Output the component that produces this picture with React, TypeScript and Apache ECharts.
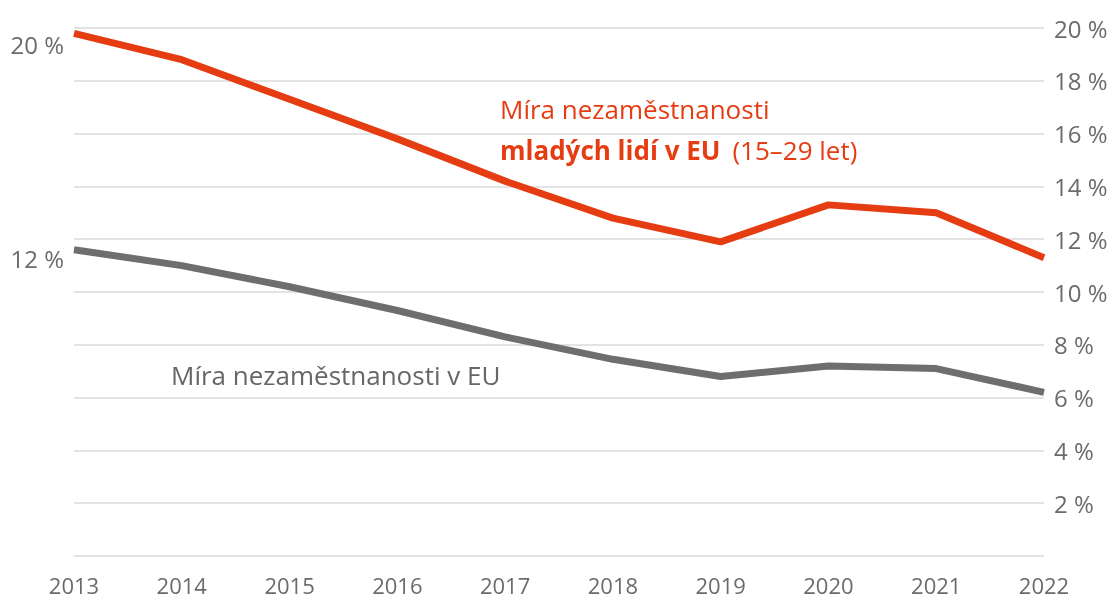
import React, { useEffect, useRef } from "react";
import * as echarts from "echarts";

const years = ["2013", "2014", "2015", "2016", "2017", "2018", "2019", "2020", "2021", "2022"];
const youthRate = [19.8, 18.8, 17.3, 15.8, 14.2, 12.8, 11.9, 13.3, 13.0, 11.3];
const totalRate = [11.6, 11.0, 10.2, 9.3, 8.3, 7.45, 6.8, 7.2, 7.1, 6.2];
const leftLabels = ["20 %", "12 %"];

const RED = "#e63c12";
const GRAY = "#6e6e6e";
const TEXT = "#6b6b6b";
const FONT = "'Open Sans', 'Noto Sans', sans-serif";

export default function App() {
  const ref = useRef<HTMLDivElement>(null);
  useEffect(() => {
    if (!ref.current) return;
    const chart = echarts.init(ref.current, undefined, { renderer: "svg" });
    chart.setOption({
      animation: false,
      textStyle: { fontFamily: FONT },
      grid: { left: 74, right: 69, top: 28, bottom: 45 },
      xAxis: {
        type: "category",
        data: years,
        boundaryGap: false,
        axisLine: { show: false },
        axisTick: { show: false },
        axisLabel: { color: TEXT, fontSize: 22, margin: 18, fontFamily: FONT },
      },
      yAxis: {
        type: "value",
        position: "right",
        min: 0,
        max: 20,
        interval: 2,
        axisLine: { show: false },
        axisTick: { show: false },
        splitLine: { lineStyle: { color: "#e3e3e3", width: 2 } },
        axisLabel: {
          color: TEXT,
          fontSize: 24,
          margin: 10,
          fontFamily: FONT,
          formatter: (v: number) => (v === 0 ? "" : `${v} %`),
        },
      },
      series: [
        {
          type: "line",
          data: totalRate,
          symbol: "none",
          lineStyle: { color: GRAY, width: 7 },
        },
        {
          type: "line",
          data: youthRate,
          symbol: "none",
          lineStyle: { color: RED, width: 7 },
        },
      ],
      graphic: [
        {
          type: "text",
          x: 64,
          y: 44,
          style: { text: leftLabels[0], fill: TEXT, font: `24px ${FONT}`, align: "right", verticalAlign: "middle" },
        },
        {
          type: "text",
          x: 64,
          y: 258,
          style: { text: leftLabels[1], fill: TEXT, font: `24px ${FONT}`, align: "right", verticalAlign: "middle" },
        },
        {
          type: "text",
          x: 500,
          y: 88,
          style: {
            text: "{n|Míra nezaměstnanosti}\n{b|mladých lidí v EU}{s| }{n|(15–29 let)}",
            rich: {
              n: { fill: RED, fontSize: 26, fontFamily: FONT, lineHeight: 41 },
              b: { fill: RED, fontSize: 26, fontFamily: FONT, fontWeight: "bold", lineHeight: 41 },
              s: { fontSize: 26, fontFamily: FONT, width: 12, lineHeight: 41 },
            },
          },
        },
        {
          type: "text",
          x: 171,
          y: 375,
          style: { text: "Míra nezaměstnanosti v EU", fill: "#666666", font: `26px ${FONT}`, verticalAlign: "middle" },
        },
      ],
    });
    return () => chart.dispose();
  }, []);
  return <div ref={ref} style={{ position: "fixed", left: 0, top: 0, width: 1113, height: 601 }} />;
}
